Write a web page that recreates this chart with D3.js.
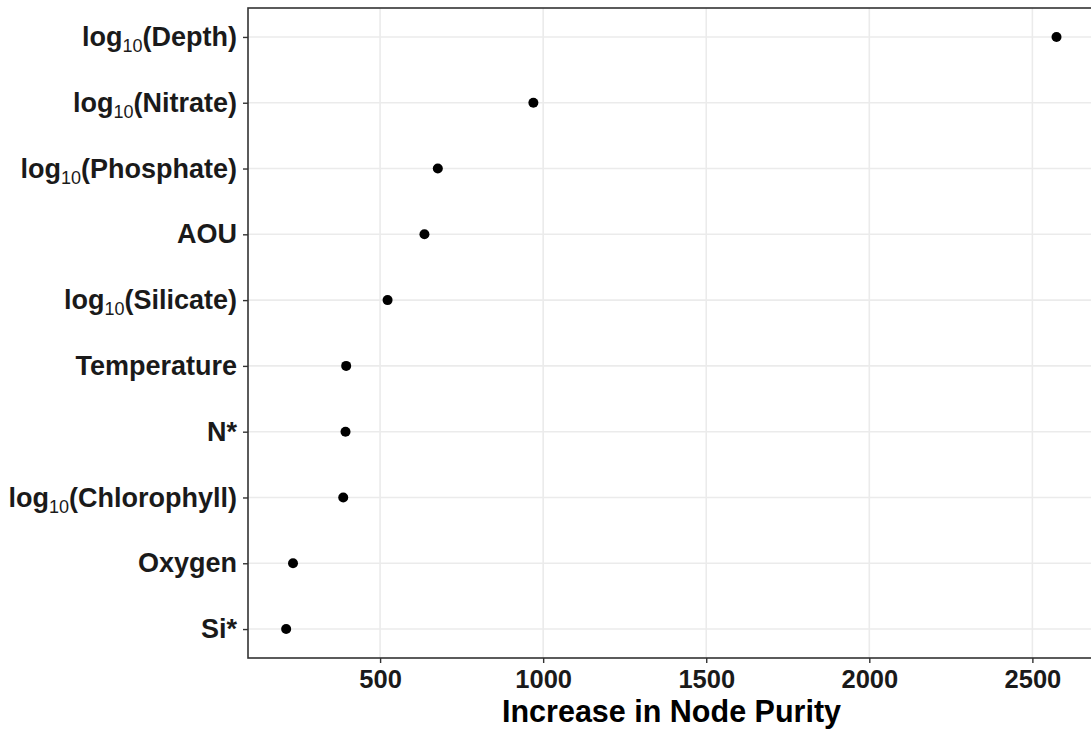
<!DOCTYPE html>
<head>
<meta charset="utf-8">
<script src="https://d3js.org/d3.v7.min.js"></script>
<style>
body { margin: 0; background: #fff; }
svg text { font-family: "Liberation Sans", Arial, Helvetica, sans-serif; }
</style>
</head>
<body>
<svg id="chart"></svg>
<script>

// data (top to bottom)
var varNames = ["Depth", "Nitrate", "Phosphate", "AOU", "Silicate",
                "Temperature", "N*", "Chlorophyll", "Oxygen", "Si*"];
var isLog = [true, true, true, false, true, false, false, true, false, false];
var purity = [2574, 970, 677, 636, 523, 396, 394, 387, 233, 212];
var xTicks = [500, 1000, 1500, 2000, 2500];

var width = 1091, height = 732;
var margin = {top: 8, right: -4, bottom: 74, left: 248};

var svg = d3.select("#chart")
    .attr("width", width)
    .attr("height", height);

var x = d3.scaleLinear()
    .domain([95, 2692])
    .range([margin.left, width - margin.right]);

var y = d3.scalePoint()
    .domain(varNames)
    .range([margin.top, height - margin.bottom])
    .padding(0.44);

// grid
var grid = svg.append("g");
grid.selectAll("line.v")
    .data(xTicks)
    .join("line")
    .attr("class", "v")
    .attr("x1", d => x(d)).attr("x2", d => x(d))
    .attr("y1", margin.top).attr("y2", height - margin.bottom)
    .attr("stroke", "#ebebeb").attr("stroke-width", 1.6);
grid.selectAll("line.h")
    .data(varNames)
    .join("line")
    .attr("class", "h")
    .attr("x1", margin.left).attr("x2", width - margin.right)
    .attr("y1", d => y(d)).attr("y2", d => y(d))
    .attr("stroke", "#ebebeb").attr("stroke-width", 1.6);

// points
svg.append("g").selectAll("circle")
    .data(varNames)
    .join("circle")
    .attr("cx", (d, i) => x(purity[i]))
    .attr("cy", d => y(d))
    .attr("r", 5)
    .attr("fill", "#000");

// x axis
var xAxis = svg.append("g")
    .attr("transform", "translate(0," + (height - margin.bottom) + ")")
    .call(d3.axisBottom(x).tickValues(xTicks).tickSize(5).tickPadding(7).tickFormat(d3.format("d")));
xAxis.select(".domain").remove();
xAxis.selectAll("line").attr("stroke", "#333").attr("stroke-width", 1.4);
xAxis.selectAll("text")
    .attr("fill", "#1a1a1a")
    .style("font-size", "25.5px")
    .style("font-weight", "bold");

// y axis
var yAxis = svg.append("g")
    .attr("transform", "translate(" + margin.left + ",0)")
    .call(d3.axisLeft(y).tickSize(5).tickPadding(6));
yAxis.select(".domain").remove();
yAxis.selectAll("line").attr("stroke", "#333").attr("stroke-width", 1.4);
yAxis.selectAll("text").each(function(d, i) {
    var t = d3.select(this).text(null)
        .attr("fill", "#1a1a1a")
        .style("font-size", "27px")
        .style("font-weight", "bold");
    if (isLog[i]) {
        t.append("tspan").text("log");
        t.append("tspan").text("10")
            .style("font-size", "18px").style("font-weight", "normal")
            .attr("dy", "6");
        t.append("tspan").text("(" + d + ")").attr("dy", "-6");
    } else {
        t.text(d);
    }
});

// panel border
svg.append("rect")
    .attr("x", margin.left).attr("y", margin.top)
    .attr("width", width - margin.right - margin.left)
    .attr("height", height - margin.bottom - margin.top)
    .attr("fill", "none")
    .attr("stroke", "#333").attr("stroke-width", 1.6);

// axis title
svg.append("text")
    .attr("x", (margin.left + width - margin.right) / 2)
    .attr("y", 722)
    .attr("text-anchor", "middle")
    .style("font-size", "30.5px")
    .style("font-weight", "bold")
    .attr("fill", "#000")
    .text("Increase in Node Purity");

</script>
</body>
